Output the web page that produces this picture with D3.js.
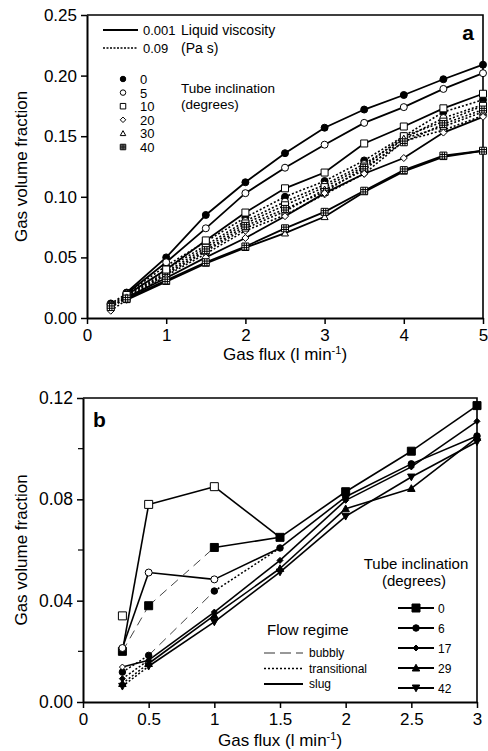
<!DOCTYPE html>
<html>
<head>
<meta charset="utf-8">
<script src="https://cdn.jsdelivr.net/npm/d3@7"></script>
<style>
  body { margin: 0; background: #fff; }
  svg { display: block; font-family: "Liberation Sans", Arial, sans-serif; }
</style>
</head>
<body>
<div id="chart"></div>
<script>
// ---- panel a data ----
const fluxWater = [0.5, 1, 1.5, 2, 2.5, 3, 3.5, 4, 4.5, 5];
const fluxViscous = [0.3, 0.5, 1, 1.5, 2, 2.5, 3, 3.5, 4, 4.5, 5];
const inclinationsA = [0, 5, 10, 20, 30, 40];
const symbolsA = ['circleFilled', 'circle', 'square', 'diamond', 'triangle', 'gridSquare'];

const water0 = [0.021, 0.050, 0.085, 0.112, 0.136, 0.157, 0.172, 0.184, 0.197, 0.209];
const water5 = [0.020, 0.046, 0.074, 0.103, 0.124, 0.143, 0.161, 0.174, 0.189, 0.202];
const water10 = [0.019, 0.040, 0.064, 0.087, 0.107, 0.120, 0.144, 0.158, 0.173, 0.185];
const water20 = [0.017, 0.033, 0.050, 0.066, 0.084, 0.103, 0.119, 0.132, 0.153, 0.166];
const water30 = [0.015, 0.030, 0.045, 0.058, 0.070, 0.0835, 0.104, 0.121, 0.133, 0.138];
const water40 = [0.016, 0.031, 0.046, 0.059, 0.074, 0.0876, 0.105, 0.122, 0.134, 0.138];

const viscous0 = [0.012, 0.020, 0.043, 0.063, 0.083, 0.100, 0.113, 0.130, 0.150, 0.170, 0.180];
const viscous5 = [0.011, 0.019, 0.040, 0.060, 0.080, 0.096, 0.110, 0.127, 0.148, 0.165, 0.176];
const viscous10 = [0.010, 0.018, 0.038, 0.058, 0.078, 0.093, 0.108, 0.125, 0.150, 0.162, 0.175];
const viscous20 = [0.006, 0.015, 0.035, 0.053, 0.072, 0.085, 0.102, 0.119, 0.146, 0.155, 0.167];
const viscous30 = [0.009, 0.016, 0.036, 0.055, 0.074, 0.088, 0.106, 0.122, 0.148, 0.158, 0.170];
const viscous40 = [0.009, 0.017, 0.037, 0.056, 0.076, 0.090, 0.104, 0.124, 0.145, 0.160, 0.172];

const xTicksA = [0, 1, 2, 3, 4, 5];
const yTicksA = [0, 0.05, 0.10, 0.15, 0.20, 0.25];

// ---- panel b data ----
const fluxB = [0.3, 0.5, 1, 1.5, 2, 2.5, 3];
const inclinationsB = [0, 6, 17, 29, 42];
const symbolsB = ['squareFilled', 'circleFilled', 'diamondFilled', 'triangleFilled', 'triangleDownFilled'];
const incl0 = [0.020, 0.038, 0.061, 0.065, 0.083, 0.099, 0.117];
const incl6 = [0.0118, 0.0184, 0.0438, 0.0608, 0.081, 0.094, 0.105];
const incl17 = [0.0092, 0.0165, 0.0355, 0.0559, 0.0796, 0.0928, 0.1108];
const incl29 = [0.0073, 0.0152, 0.0342, 0.0527, 0.0763, 0.0843, 0.1044];
const incl42 = [0.0062, 0.0141, 0.0316, 0.0513, 0.0733, 0.0888, 0.1027];
const regime0 = ['bubbly', 'bubbly', 'slug', 'slug', 'slug', 'slug'];
const regime6 = ['transitional', 'bubbly', 'transitional', 'slug', 'slug', 'slug'];
const regimeLow = ['transitional', 'slug', 'slug', 'slug', 'slug', 'slug'];

// second runs drawn with open symbols
const run0Flux = [0.3, 0.5, 1, 1.5];
const run0 = [0.020, 0.078, 0.085, 0.065];
const run0Open = [false, true, true, false];
const run6Flux = [0.3, 0.5, 1, 1.5];
const run6 = [0.0213, 0.0511, 0.0484, 0.0608];
const run6Open = [true, true, true, false];
const run17Flux = [0.3, 0.5];
const run17 = [0.0138, 0.0165];
const run17Open = [true, false];
const loneFlux = [0.3];
const loneValue = [0.034];

const xTicksB = [0, 0.5, 1, 1.5, 2, 2.5, 3];
const yTicksB = [0, 0.04, 0.08, 0.12];
const yMinorB = [0.02, 0.06, 0.10];

const svg = d3.select('#chart').append('svg')
  .attr('width', 488).attr('height', 751);

function symbolPath(type, s) {
  const h = s / 2;
  if (type.startsWith('circle')) {
    return `M${h},0A${h},${h} 0 1,1 ${-h},0A${h},${h} 0 1,1 ${h},0Z`;
  }
  if (type.startsWith('square')) return `M${-h},${-h}H${h}V${h}H${-h}Z`;
  if (type.startsWith('diamond')) return `M0,${-h}L${h},0L0,${h}L${-h},0Z`;
  if (type.startsWith('triangleDown')) return `M${-h},${-h * 0.8}H${h}L0,${h}Z`;
  if (type.startsWith('triangle')) return `M0,${-h}L${h},${h * 0.8}H${-h}Z`;
  if (type === 'gridSquare') {
    const t = s / 3;
    return `M${-h},${-h}H${h}V${h}H${-h}Z` +
      `M${-h + t},${-h}V${h}M${-h + 2 * t},${-h}V${h}` +
      `M${-h},${-h + t}H${h}M${-h},${-h + 2 * t}H${h}`;
  }
  return '';
}

function drawMarker(g, type, x, y, s, open) {
  const filled = !open && type.endsWith('Filled');
  g.append('path')
    .attr('d', symbolPath(type, s))
    .attr('transform', `translate(${x},${y})`)
    .attr('fill', filled ? '#000' : '#fff')
    .attr('stroke', '#000')
    .attr('stroke-width', 1);
}

function styleAxis(g, fontSize) {
  g.select('.domain').attr('stroke-width', 2);
  g.selectAll('.tick line').attr('stroke-width', 1.5);
  g.selectAll('.tick text')
    .attr('font-size', fontSize)
    .attr('font-family', '"Liberation Sans", Arial, sans-serif')
    .attr('fill', '#000');
}

// ================= panel a =================
const xA = d3.scaleLinear().domain([0, 5]).range([87, 483]);
const yA = d3.scaleLinear().domain([0, 0.25]).range([318, 15]);
const gA = svg.append('g');

gA.append('path')
  .attr('d', `M${xA(0)},${yA(0.25)}H${xA(5)}V${yA(0)}`)
  .attr('fill', 'none').attr('stroke', '#000').attr('stroke-width', 1.6);

const axA = gA.append('g').attr('transform', `translate(0,${yA(0)})`)
  .call(d3.axisBottom(xA).tickValues(xTicksA).tickSize(6).tickSizeOuter(0).tickPadding(5)
    .tickFormat(d3.format('d')));
styleAxis(axA, 17);
const ayA = gA.append('g').attr('transform', `translate(${xA(0)},0)`)
  .call(d3.axisLeft(yA).tickValues(yTicksA).tickSize(6).tickSizeOuter(0).tickPadding(4)
    .tickFormat(d3.format('.2f')));
styleAxis(ayA, 17);

const waterSeries = [water0, water5, water10, water20, water30, water40];
const viscousSeries = [viscous0, viscous5, viscous10, viscous20, viscous30, viscous40];
const lineA = d3.line().x(d => xA(d[0])).y(d => yA(d[1]));

viscousSeries.forEach((vals) => {
  gA.append('path')
    .attr('d', lineA(fluxViscous.map((f, i) => [f, vals[i]])))
    .attr('fill', 'none').attr('stroke', '#000').attr('stroke-width', 1.6)
    .attr('stroke-dasharray', '2,2');
});
waterSeries.forEach((vals) => {
  gA.append('path')
    .attr('d', lineA(fluxWater.map((f, i) => [f, vals[i]])))
    .attr('fill', 'none').attr('stroke', '#000').attr('stroke-width', 1.8);
});
viscousSeries.forEach((vals, k) => {
  vals.forEach((v, i) => drawMarker(gA, symbolsA[k], xA(fluxViscous[i]), yA(v), 7, false));
});
waterSeries.forEach((vals, k) => {
  vals.forEach((v, i) => drawMarker(gA, symbolsA[k], xA(fluxWater[i]), yA(v), 7, false));
});

// legend a
const legA = gA.append('g');
legA.append('line').attr('x1', 103).attr('x2', 138).attr('y1', 30).attr('y2', 30)
  .attr('stroke', '#000').attr('stroke-width', 1.8);
legA.append('line').attr('x1', 103).attr('x2', 138).attr('y1', 48).attr('y2', 48)
  .attr('stroke', '#000').attr('stroke-width', 1.6).attr('stroke-dasharray', '2,1.5');
legA.append('text').attr('x', 143).attr('y', 35).attr('font-size', 13).text('0.001');
legA.append('text').attr('x', 143).attr('y', 53).attr('font-size', 13).text('0.09');
legA.append('text').attr('x', 181).attr('y', 35).attr('font-size', 14).text('Liquid viscosity');
legA.append('text').attr('x', 181).attr('y', 53).attr('font-size', 14).text('(Pa s)');
inclinationsA.forEach((d, i) => {
  const y = 79 + i * 13.6;
  drawMarker(legA, symbolsA[i], 123, y, 5.5, false);
  legA.append('text').attr('x', 140).attr('y', y + 5).attr('font-size', 13).text(d);
});
legA.append('text').attr('x', 181).attr('y', 93).attr('font-size', 13.5).text('Tube inclination');
legA.append('text').attr('x', 181).attr('y', 109).attr('font-size', 13.5).text('(degrees)');
gA.append('text').attr('x', 468).attr('y', 40).attr('text-anchor', 'middle')
  .attr('font-size', 21).attr('font-weight', 'bold').text('a');

gA.append('text')
  .attr('transform', `translate(27,${(yA(0) + yA(0.25)) / 2}) rotate(-90)`)
  .attr('text-anchor', 'middle').attr('font-size', 17).text('Gas volume fraction');
const xtA = gA.append('text').attr('x', 285).attr('y', 360).attr('text-anchor', 'middle')
  .attr('font-size', 17);
xtA.append('tspan').text('Gas flux (l min');
xtA.append('tspan').attr('dy', -6).attr('font-size', 11).text('-1');
xtA.append('tspan').attr('dy', 6).text(')');

// ================= panel b =================
const xB = d3.scaleLinear().domain([0, 3]).range([83, 477]);
const yB = d3.scaleLinear().domain([0, 0.12]).range([702, 398]);
const gB = svg.append('g');

gB.append('path')
  .attr('d', `M${xB(0)},${yB(0.12)}H${xB(3)}V${yB(0)}`)
  .attr('fill', 'none').attr('stroke', '#000').attr('stroke-width', 1.6);

const axB = gB.append('g').attr('transform', `translate(0,${yB(0)})`)
  .call(d3.axisBottom(xB).tickValues(xTicksB).tickSize(6).tickSizeOuter(0).tickPadding(5)
    .tickFormat(d => d3.format('')(d)));
styleAxis(axB, 17);
const ayB = gB.append('g').attr('transform', `translate(${xB(0)},0)`)
  .call(d3.axisLeft(yB).tickValues(yTicksB).tickSize(6).tickSizeOuter(0).tickPadding(4)
    .tickFormat(d3.format('.2f')));
styleAxis(ayB, 17.5);
yMinorB.forEach(v => {
  gB.append('line').attr('x1', xB(0) - 5).attr('x2', xB(0)).attr('y1', yB(v)).attr('y2', yB(v))
    .attr('stroke', '#000').attr('stroke-width', 1.2);
});

const regimeStyle = {
  bubbly: { dash: '9,6', color: '#444', width: 1 },
  transitional: { dash: '2,2', color: '#000', width: 1.5 },
  slug: { dash: null, color: '#000', width: 1.6 }
};

function drawSegments(g, flux, vals, regimes) {
  for (let i = 0; i < vals.length - 1; i++) {
    const st = regimeStyle[regimes[i]];
    g.append('line')
      .attr('x1', xB(flux[i])).attr('y1', yB(vals[i]))
      .attr('x2', xB(flux[i + 1])).attr('y2', yB(vals[i + 1]))
      .attr('stroke', st.color).attr('stroke-width', st.width)
      .attr('stroke-dasharray', st.dash);
  }
}

const seriesB = [incl0, incl6, incl17, incl29, incl42];
const regimesB = [regime0, regime6, regimeLow, regimeLow, regimeLow];
const sizesB = [8, 6.5, 6, 7.5, 7.5];

// open-symbol runs (solid lines)
const runs = [
  { flux: run0Flux, vals: run0, open: run0Open, sym: 'squareFilled', size: 8 },
  { flux: run6Flux, vals: run6, open: run6Open, sym: 'circleFilled', size: 7 },
  { flux: run17Flux, vals: run17, open: run17Open, sym: 'diamondFilled', size: 6 }
];
runs.forEach(r => drawSegments(gB, r.flux, r.vals, r.vals.map(() => 'slug')));
seriesB.forEach((vals, k) => drawSegments(gB, fluxB, vals, regimesB[k]));
seriesB.forEach((vals, k) => {
  vals.forEach((v, i) => drawMarker(gB, symbolsB[k], xB(fluxB[i]), yB(v), sizesB[k], false));
});
runs.forEach(r => {
  r.vals.forEach((v, i) => {
    if (r.open[i]) drawMarker(gB, r.sym, xB(r.flux[i]), yB(v), r.size, true);
  });
});
loneFlux.forEach((f, i) => drawMarker(gB, 'squareFilled', xB(f), yB(loneValue[i]), 8, true));

gB.append('text').attr('x', 93).attr('y', 427).attr('font-size', 21)
  .attr('font-weight', 'bold').text('b');

// legend b: tube inclination
const legB = gB.append('g');
legB.append('text').attr('x', 416).attr('y', 569).attr('text-anchor', 'middle')
  .attr('font-size', 15).text('Tube inclination');
legB.append('text').attr('x', 414).attr('y', 586).attr('text-anchor', 'middle')
  .attr('font-size', 15).text('(degrees)');
inclinationsB.forEach((d, i) => {
  const y = 608 + i * 20;
  legB.append('line').attr('x1', 398).attr('x2', 434).attr('y1', y).attr('y2', y)
    .attr('stroke', '#000').attr('stroke-width', 1.8);
  drawMarker(legB, symbolsB[i], 416, y, sizesB[i], false);
  legB.append('text').attr('x', 438).attr('y', y + 4.5).attr('font-size', 12).text(d);
});

// legend b: flow regime
legB.append('text').attr('x', 267).attr('y', 635).attr('font-size', 15).text('Flow regime');
['bubbly', 'transitional', 'slug'].forEach((r, i) => {
  const y = 653 + i * 15.5;
  const st = regimeStyle[r];
  legB.append('line').attr('x1', 264).attr('x2', 303).attr('y1', y).attr('y2', y)
    .attr('stroke', r === 'bubbly' ? '#777' : '#000')
    .attr('stroke-width', r === 'slug' ? 1.8 : 1.5)
    .attr('stroke-dasharray', r === 'bubbly' ? '11,5' : st.dash);
  legB.append('text').attr('x', 309).attr('y', y + 4).attr('font-size', 12).text(r);
});

gB.append('text')
  .attr('transform', `translate(27,${(yB(0) + yB(0.12)) / 2}) rotate(-90)`)
  .attr('text-anchor', 'middle').attr('font-size', 17).text('Gas volume fraction');
const xtB = gB.append('text').attr('x', 280).attr('y', 746).attr('text-anchor', 'middle')
  .attr('font-size', 17);
xtB.append('tspan').text('Gas flux (l min');
xtB.append('tspan').attr('dy', -6).attr('font-size', 11).text('-1');
xtB.append('tspan').attr('dy', 6).text(')');
</script>
</body>
</html>
